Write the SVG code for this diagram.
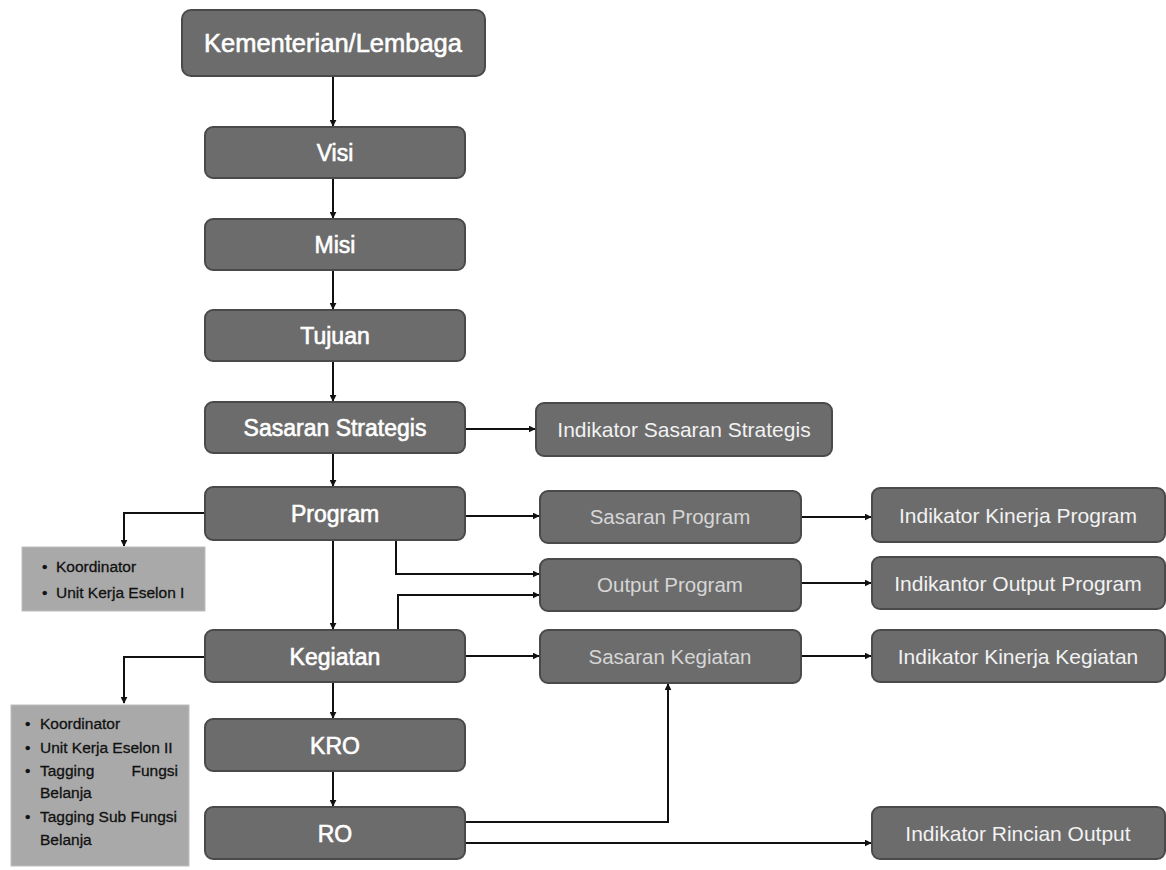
<svg xmlns="http://www.w3.org/2000/svg" width="1166" height="870" viewBox="0 0 1166 870">
<defs>
<marker id="ah" viewBox="0 0 10 10" refX="9" refY="5" markerWidth="7" markerHeight="7" orient="auto" markerUnits="userSpaceOnUse">
<path d="M0,0 L10,5 L0,10 z" fill="#111"/>
</marker>
<style>
.box{fill:#6c6c6c;stroke:#4a4a4a;stroke-width:2}
.lbox{fill:#a9a9a9;stroke:#bdbdbd;stroke-width:1}
.t{font-family:"Liberation Sans",Arial,sans-serif;fill:#fff;stroke:#fff;stroke-width:0.6px;text-anchor:middle;font-size:23px}
.t2{font-family:"Liberation Sans",Arial,sans-serif;fill:#f2f2f2;text-anchor:middle;font-size:21px}
.t3{font-family:"Liberation Sans",Arial,sans-serif;fill:#d6d6d6;text-anchor:middle;font-size:20.5px}
.l{font-family:"Liberation Sans",Arial,sans-serif;fill:#111;stroke:#111;stroke-width:0.3px;font-size:15.5px}
.c{fill:none;stroke:#111;stroke-width:2}
</style>
</defs>
<rect width="1166" height="870" fill="#fff"/>
<g id="connectors">
<path class="c" d="M333,76 V126" marker-end="url(#ah)"/>
<path class="c" d="M333,178 V218" marker-end="url(#ah)"/>
<path class="c" d="M333,270 V309" marker-end="url(#ah)"/>
<path class="c" d="M333,361 V401" marker-end="url(#ah)"/>
<path class="c" d="M333,453 V486" marker-end="url(#ah)"/>
<path class="c" d="M333,540 V629" marker-end="url(#ah)"/>
<path class="c" d="M333,682 V718" marker-end="url(#ah)"/>
<path class="c" d="M333,771 V806" marker-end="url(#ah)"/>
<path class="c" d="M465,429 H535" marker-end="url(#ah)"/>
<path class="c" d="M465,516 H539" marker-end="url(#ah)"/>
<path class="c" d="M801,517 H871" marker-end="url(#ah)"/>
<path class="c" d="M801,583 H871" marker-end="url(#ah)"/>
<path class="c" d="M801,656 H871" marker-end="url(#ah)"/>
<path class="c" d="M465,656 H539" marker-end="url(#ah)"/>
<path class="c" d="M396,540 V574 H539" marker-end="url(#ah)"/>
<path class="c" d="M398,630 V595 H539" marker-end="url(#ah)"/>
<path class="c" d="M465,822 H668 V684" marker-end="url(#ah)"/>
<path class="c" d="M465,843 H871" marker-end="url(#ah)"/>
<path class="c" d="M205,513 H124 V546" marker-end="url(#ah)"/>
<path class="c" d="M205,657 H124 V703" marker-end="url(#ah)"/>
</g>
<g id="kementerian"><rect class="box" x="182" y="10" width="303" height="66" rx="9"/><text class="t" x="333" y="52" style="font-size:25.5px">Kementerian/Lembaga</text></g>
<g id="visi"><rect class="box" x="205" y="127" width="260" height="51" rx="8"/><text class="t" x="335" y="161">Visi</text></g>
<g id="misi"><rect class="box" x="205" y="219" width="260" height="51" rx="8"/><text class="t" x="335" y="253">Misi</text></g>
<g id="tujuan"><rect class="box" x="205" y="310" width="260" height="51" rx="8"/><text class="t" x="335" y="344">Tujuan</text></g>
<g id="sasaran-strategis"><rect class="box" x="205" y="402" width="260" height="51" rx="8"/><text class="t" x="335" y="436">Sasaran Strategis</text></g>
<g id="program"><rect class="box" x="205" y="487" width="260" height="53" rx="8"/><text class="t" x="335" y="522">Program</text></g>
<g id="kegiatan"><rect class="box" x="205" y="630" width="260" height="52" rx="8"/><text class="t" x="335" y="665">Kegiatan</text></g>
<g id="kro"><rect class="box" x="205" y="719" width="260" height="52" rx="8"/><text class="t" x="335" y="754">KRO</text></g>
<g id="ro"><rect class="box" x="205" y="807" width="260" height="52" rx="8"/><text class="t" x="335" y="842">RO</text></g>
<g id="indikator-sasaran-strategis"><rect class="box" x="536" y="403" width="296" height="53" rx="8"/><text class="t2" x="684" y="437">Indikator Sasaran Strategis</text></g>
<g id="sasaran-program"><rect class="box" x="540" y="491" width="261" height="52" rx="8"/><text class="t3" x="670" y="524">Sasaran Program</text></g>
<g id="output-program"><rect class="box" x="540" y="559" width="261" height="52" rx="8"/><text class="t3" x="670" y="592">Output Program</text></g>
<g id="sasaran-kegiatan"><rect class="box" x="540" y="630" width="261" height="53" rx="8"/><text class="t3" x="670" y="664">Sasaran Kegiatan</text></g>
<g id="indikator-kinerja-program"><rect class="box" x="872" y="488" width="293" height="54" rx="8"/><text class="t2" x="1018" y="523">Indikator Kinerja Program</text></g>
<g id="indikantor-output-program"><rect class="box" x="872" y="557" width="293" height="52" rx="8"/><text class="t2" x="1018" y="591">Indikantor Output Program</text></g>
<g id="indikator-kinerja-kegiatan"><rect class="box" x="872" y="630" width="293" height="52" rx="8"/><text class="t2" x="1018" y="664">Indikator Kinerja Kegiatan</text></g>
<g id="indikator-rincian-output"><rect class="box" x="872" y="807" width="293" height="52" rx="8"/><text class="t2" x="1018" y="841">Indikator Rincian Output</text></g>
<g id="ket-program"><rect class="lbox" x="22" y="547" width="183" height="64"/>
<text class="l" x="42" y="572">•</text><text class="l" x="56" y="572">Koordinator</text>
<text class="l" x="42" y="598">•</text><text class="l" x="56" y="598">Unit Kerja Eselon I</text></g>
<g id="ket-kegiatan"><rect class="lbox" x="11" y="705" width="178" height="161"/>
<text class="l" x="25" y="729">•</text><text class="l" x="40" y="729">Koordinator</text>
<text class="l" x="25" y="753">•</text><text class="l" x="40" y="753">Unit Kerja Eselon II</text>
<text class="l" x="25" y="776">•</text><text class="l" x="40" y="776">Tagging</text>
<text class="l" x="178" y="776" text-anchor="end">Fungsi</text>
<text class="l" x="40" y="798">Belanja</text>
<text class="l" x="25" y="822">•</text><text class="l" x="40" y="822">Tagging Sub Fungsi</text>
<text class="l" x="40" y="845">Belanja</text></g>
</svg>
